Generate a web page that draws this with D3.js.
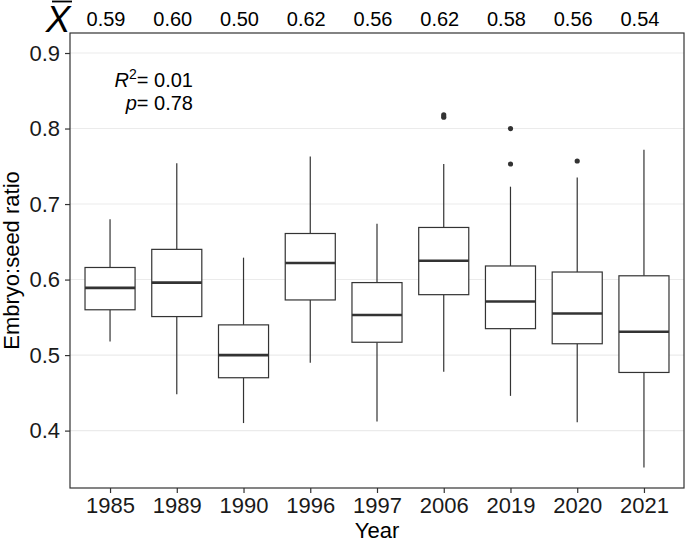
<!DOCTYPE html>
<html>
<head>
<meta charset="utf-8">
<script src="https://cdn.jsdelivr.net/npm/d3@7/dist/d3.min.js"></script>
<style>
  html, body { margin: 0; padding: 0; background: #fff; }
  svg { display: block; font-family: "Liberation Sans", Arial, Helvetica, sans-serif; }
</style>
</head>
<body>
<svg id="chart" width="685" height="543"></svg>
<script>
// ---- data ----
const years = ["1985", "1989", "1990", "1996", "1997", "2006", "2019", "2020", "2021"];
const means = ["0.59", "0.60", "0.50", "0.62", "0.56", "0.62", "0.58", "0.56", "0.54"];
const whiskerLow  = [0.518, 0.448, 0.410, 0.490, 0.412, 0.478, 0.446, 0.411, 0.351];
const q1          = [0.560, 0.551, 0.470, 0.573, 0.517, 0.580, 0.535, 0.515, 0.477];
const medians     = [0.589, 0.596, 0.500, 0.622, 0.553, 0.625, 0.571, 0.555, 0.531];
const q3          = [0.616, 0.640, 0.540, 0.661, 0.596, 0.669, 0.618, 0.610, 0.605];
const whiskerHigh = [0.680, 0.754, 0.629, 0.763, 0.674, 0.753, 0.723, 0.735, 0.772];
const outliers    = [[], [], [], [], [], [0.815, 0.818], [0.800, 0.753], [0.757], []];
const yTicks = [0.4, 0.5, 0.6, 0.7, 0.8, 0.9];
const yDomain = [0.324, 0.9265];
const r2Text = "0.01";
const pText = "0.78";

// ---- layout ----
const W = 685, H = 543;
const panel = { left: 70, right: 684, top: 33, bottom: 488 };
const ink = "#333333";

const svg = d3.select("#chart");

const x = d3.scalePoint().domain(years).range([panel.left, panel.right]).padding(0.6);
const y = d3.scaleLinear().domain(yDomain).range([panel.bottom, panel.top]);
const boxW = x.step() * 0.75;

// gridlines
svg.append("g").selectAll("line").data(yTicks).join("line")
  .attr("x1", panel.left).attr("x2", panel.right)
  .attr("y1", d => y(d)).attr("y2", d => y(d))
  .attr("stroke", "#ebebeb").attr("stroke-width", 1.1);

const boxes = years.map((yr, i) => ({
  yr, lo: whiskerLow[i], q1: q1[i], med: medians[i], q3: q3[i], hi: whiskerHigh[i], out: outliers[i]
}));

const g = svg.append("g");
// whiskers
g.selectAll(".wl").data(boxes).join("line")
  .attr("x1", d => x(d.yr)).attr("x2", d => x(d.yr))
  .attr("y1", d => y(d.lo)).attr("y2", d => y(d.q1))
  .attr("stroke", ink).attr("stroke-width", 1.2);
g.selectAll(".wh").data(boxes).join("line")
  .attr("x1", d => x(d.yr)).attr("x2", d => x(d.yr))
  .attr("y1", d => y(d.q3)).attr("y2", d => y(d.hi))
  .attr("stroke", ink).attr("stroke-width", 1.2);
// boxes
g.selectAll("rect").data(boxes).join("rect")
  .attr("x", d => x(d.yr) - boxW / 2).attr("width", boxW)
  .attr("y", d => y(d.q3)).attr("height", d => y(d.q1) - y(d.q3))
  .attr("fill", "#fff").attr("stroke", ink).attr("stroke-width", 1.2);
// medians
g.selectAll(".med").data(boxes).join("line")
  .attr("x1", d => x(d.yr) - boxW / 2).attr("x2", d => x(d.yr) + boxW / 2)
  .attr("y1", d => y(d.med)).attr("y2", d => y(d.med))
  .attr("stroke", ink).attr("stroke-width", 2.6);
// outliers
const outPts = boxes.flatMap(d => d.out.map(v => ({ yr: d.yr, v })));
g.selectAll("circle").data(outPts).join("circle")
  .attr("cx", d => x(d.yr)).attr("cy", d => y(d.v)).attr("r", 2.6)
  .attr("fill", ink);

// panel border
svg.append("rect")
  .attr("x", panel.left).attr("y", panel.top)
  .attr("width", panel.right - panel.left).attr("height", panel.bottom - panel.top)
  .attr("fill", "none").attr("stroke", ink).attr("stroke-width", 1.2);

// y axis
const yAxis = d3.axisLeft(y).tickValues(yTicks).tickFormat(d3.format(".1f")).tickSize(5).tickPadding(5);
const ya = svg.append("g").attr("transform", `translate(${panel.left},0)`).call(yAxis);
ya.select(".domain").remove();
ya.selectAll(".tick line").attr("stroke", ink).attr("stroke-width", 1.2);
ya.selectAll(".tick text").attr("fill", "#1a1a1a").style("font-size", "22px")
  .style("font-family", "'Liberation Sans', Arial, sans-serif");

// x axis
const xAxis = d3.axisBottom(x).tickSize(5).tickPadding(4);
const xa = svg.append("g").attr("transform", `translate(0,${panel.bottom})`).call(xAxis);
xa.select(".domain").remove();
xa.selectAll(".tick line").attr("stroke", ink).attr("stroke-width", 1.2);
xa.selectAll(".tick text").attr("fill", "#1a1a1a").style("font-size", "22px")
  .style("font-family", "'Liberation Sans', Arial, sans-serif");

// axis titles
svg.append("text")
  .attr("x", (panel.left + panel.right) / 2).attr("y", 538)
  .attr("text-anchor", "middle").style("font-size", "22px").attr("fill", "#000")
  .text("Year");
svg.append("text")
  .attr("transform", `translate(19,${(panel.top + panel.bottom) / 2}) rotate(-90)`)
  .attr("text-anchor", "middle").style("font-size", "22px").attr("fill", "#000")
  .text("Embryo:seed ratio");

// mean labels on top
svg.append("g").selectAll("text").data(years).join("text")
  .attr("x", (d) => x(d) - 4).attr("y", 26)
  .attr("text-anchor", "middle").style("font-size", "20px").attr("fill", "#000")
  .text((d, i) => means[i]);

// X-bar symbol
svg.append("text")
  .attr("x", 58).attr("y", 32)
  .attr("text-anchor", "middle").style("font-size", "37px").style("font-style", "italic")
  .attr("fill", "#000").text("X");
svg.append("line")
  .attr("x1", 52).attr("x2", 72)
  .attr("y1", 1.5).attr("y2", 1.5)
  .attr("stroke", "#000").attr("stroke-width", 1.8);

// R² / p annotation
const ann = svg.append("text").attr("text-anchor", "end").style("font-size", "20px").attr("fill", "#000");
const l1 = ann.append("tspan").attr("x", 193).attr("y", 87);
l1.append("tspan").style("font-style", "italic").text("R");
l1.append("tspan").attr("dy", -8).style("font-size", "14px").text("2");
l1.append("tspan").attr("dy", 8).text("= " + r2Text);
const l2 = svg.append("text").attr("text-anchor", "end").style("font-size", "20px").attr("fill", "#000")
  .attr("x", 193).attr("y", 110);
l2.append("tspan").style("font-style", "italic").text("p");
l2.append("tspan").text("= " + pText);
</script>
</body>
</html>
